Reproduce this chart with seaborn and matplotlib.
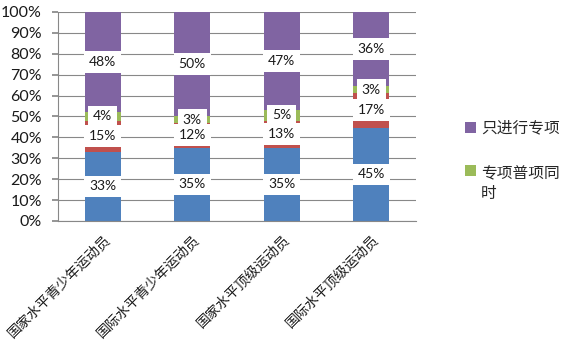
import matplotlib
matplotlib.use("Agg")
import matplotlib.pyplot as plt
import numpy as np
import pandas as pd
import seaborn as sns

categories = ["国家水平青少年运动员", "国际水平青少年运动员", "国家水平顶级运动员", "国际水平顶级运动员"]
series_names = ["只进行普项", "先普项后专项", "专项普项同时", "只进行专项"]
blue_vals = [33, 35, 35, 45]
red_vals = [15, 12, 13, 17]
green_vals = [4, 3, 5, 3]
purple_vals = [48, 50, 47, 36]
y_tick_labels = ["0%", "10%", "20%", "30%", "40%", "50%", "60%", "70%", "80%", "90%", "100%"]
legend_labels = ["只进行专项", "专项普项同\n时"]

colors = ["#4F81BD", "#C0504D", "#9BBB59", "#8064A2"]

sns.set_theme(style="white")
plt.rcParams["font.family"] = ["Lato", "Noto Sans CJK SC", "DejaVu Sans"]

# 100% stacked: each column is scaled to its own total
vals = np.array([blue_vals, red_vals, green_vals, purple_vals], dtype=float)
shares = vals / vals.sum(axis=0) * 100
tops = np.cumsum(shares, axis=0)

fig = plt.figure(figsize=(5.63, 3.42), dpi=100)
ax = fig.add_axes([0.103, 0.354, 0.636, 0.611])

# draw the tallest cumulative layer first so lower layers sit on top
for i in range(3, -1, -1):
    df = pd.DataFrame({"cat": categories, "top": tops[i]})
    sns.barplot(data=df, x="cat", y="top", color=colors[i], width=0.4,
                saturation=1, ax=ax, zorder=2, edgecolor="none")

# value labels in white boxes; lower series are stacked above upper ones
for i in range(3, -1, -1):
    for j in range(len(categories)):
        ax.text(j, tops[i, j] - shares[i, j] / 2, f"{int(vals[i, j])}%",
                ha="center", va="center", fontsize=10, color="#1a1a1a", zorder=4,
                bbox=dict(boxstyle="square,pad=0.35", fc="white", ec="none"))

ax.set_ylim(0, 100)
ax.set_xlim(-0.5, len(categories) - 0.5)
ax.set_yticks(np.arange(0, 101, 10))
ax.set_yticklabels(y_tick_labels, fontsize=11.5, color="#1a1a1a")
ax.yaxis.grid(True, color="#888888", linewidth=0.8, zorder=0)
ax.set_axisbelow(True)
ax.set_xlabel("")
ax.set_ylabel("")

ax.set_xticks(range(len(categories)))
ax.set_xticklabels(categories, rotation=45, ha="right", rotation_mode="anchor",
                   fontsize=10, color="#1a1a1a", family=["Noto Sans CJK SC"])
ax.tick_params(axis="x", length=0, pad=8)
ax.set_xticks(np.arange(-0.5, len(categories), 1), minor=True)
ax.tick_params(axis="x", which="minor", length=5, color="#888888", direction="out")
ax.tick_params(axis="y", length=4.5, color="#888888", direction="out", left=True, pad=7)

for s in ["top", "right"]:
    ax.spines[s].set_visible(False)
for s in ["left", "bottom"]:
    ax.spines[s].set_color("#888888")
    ax.spines[s].set_linewidth(0.8)

purple_bar = ax.containers[0][0]
green_bar = ax.containers[1][0]
leg = fig.legend([purple_bar, green_bar], legend_labels, loc="upper left",
                 bbox_to_anchor=(0.826, 0.65), frameon=False,
                 borderpad=0, borderaxespad=0,
                 handlelength=0.7, handleheight=0.7, handletextpad=0.3,
                 labelspacing=1.8, prop={"family": ["Noto Sans CJK SC"], "size": 11.3})
# keep the second marker level with the first line of its wrapped label
h = leg.legend_handles[1]
h.set_y(h.get_y() + 10)

fig.savefig("out.png", dpi=100)
